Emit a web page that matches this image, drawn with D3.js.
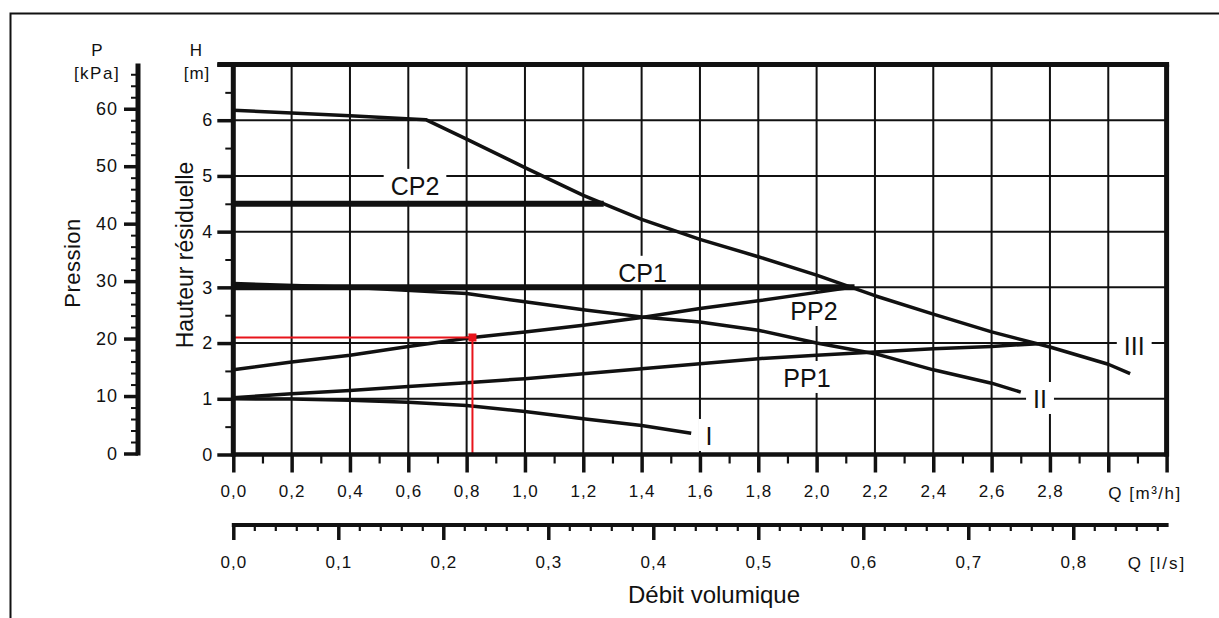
<!DOCTYPE html>
<html>
<head>
<meta charset="utf-8">
<script src="https://cdn.jsdelivr.net/npm/d3@7/dist/d3.min.js"></script>
<style>
  body { margin: 0; background: #fff; }
  text { font-family: "Liberation Sans", Arial, Helvetica, sans-serif; fill: #111; }
</style>
</head>
<body>
<svg id="chart" width="1219" height="618"></svg>
<script>
// débit Q en m3/h, hauteur H en m
var curveIII = [[0,6.18],[0.2,6.13],[0.4,6.08],[0.66,6.01],[0.8,5.66],[1.0,5.15],[1.2,4.65],[1.4,4.22],[1.6,3.86],[1.8,3.55],[2.0,3.22],[2.2,2.85],[2.4,2.52],[2.6,2.2],[2.8,1.93],[3.0,1.62],[3.075,1.45]];
var curveII = [[0,3.07],[0.4,3.0],[0.8,2.89],[1.0,2.74],[1.2,2.6],[1.4,2.47],[1.6,2.38],[1.8,2.23],[2.0,2.0],[2.2,1.81],[2.4,1.52],[2.6,1.28],[2.7,1.12]];
var curveI = [[0,1.0],[0.2,0.995],[0.4,0.975],[0.6,0.94],[0.8,0.88],[1.0,0.77],[1.2,0.64],[1.4,0.52],[1.57,0.38]];
var curvePP2 = [[0,1.52],[0.2,1.66],[0.4,1.78],[0.6,1.94],[0.82,2.1],[1.0,2.2],[1.2,2.32],[1.4,2.46],[1.6,2.62],[1.8,2.76],[2.0,2.91],[2.12,3.0]];
var curvePP1 = [[0,1.02],[0.2,1.09],[0.4,1.15],[0.6,1.22],[0.8,1.29],[1.0,1.36],[1.2,1.45],[1.4,1.54],[1.6,1.63],[1.8,1.72],[2.0,1.78],[2.2,1.84],[2.4,1.9],[2.6,1.94],[2.76,1.99]];
var curveCP2 = [[0,4.5],[1.27,4.5]];
var curveCP1 = [[0,3.0],[2.13,3.0]];
var opPoint = [0.82, 2.1];

var labelNames = ["CP2","CP1","PP2","PP1","III","II","I"];
var labelPos = [[0.623,4.66],[1.403,3.10],[1.991,2.414],[1.967,1.212],[3.089,1.786],[2.766,0.835],[1.631,0.171]];

var qTicks = [0,0.2,0.4,0.6,0.8,1.0,1.2,1.4,1.6,1.8,2.0,2.2,2.4,2.6,2.8,3.0,3.2];
var lsTicks = [0,0.1,0.2,0.3,0.4,0.5,0.6,0.7,0.8];
var hTicks = [0,1,2,3,4,5,6,7];
var pTicks = [0,10,20,30,40,50,60];

var svg = d3.select("#chart");
var x = d3.scaleLinear().domain([0,3.2]).range([233.3,1166.6]);
var xl = d3.scaleLinear().domain([0,3.2/3.6]).range([233.3,1166.6]);
var y = d3.scaleLinear().domain([0,7]).range([454.5,64.5]);
var yp = d3.scaleLinear().domain([0,67.7]).range([453.5,64.5]);
var fmt = function(d){ return d3.format(".1f")(d).replace(".", ","); };

// cadre extérieur
svg.append("path").attr("d","M10.5,618 V13.5 H1219")
  .attr("fill","none").attr("stroke","#111").attr("stroke-width",2);

var gGrid = svg.append("g"), gBox = svg.append("g"), gCurves = svg.append("g"),
    gAxes = svg.append("g"), gText = svg.append("g");

// grille
gGrid.selectAll("line.v").data(qTicks.slice(1,-1)).enter().append("line").attr("class","v")
  .attr("x1",function(d){return x(d);}).attr("x2",function(d){return x(d);})
  .attr("y1",y(0)).attr("y2",y(7));
gGrid.selectAll("line.h").data(hTicks.slice(1,-1)).enter().append("line").attr("class","h")
  .attr("x1",x(0)).attr("x2",x(3.2))
  .attr("y1",function(d){return y(d);}).attr("y2",function(d){return y(d);});
gGrid.selectAll("line").attr("stroke","#111").attr("stroke-width",2);

// courbes
var line = d3.line().x(function(d){return x(d[0]);}).y(function(d){return y(d[1]);});
[curveIII, curveII, curveI, curvePP2, curvePP1].forEach(function(c){
  gCurves.append("path").attr("d", line(c)).attr("fill","none")
    .attr("stroke","#111").attr("stroke-width",3.5).attr("stroke-linejoin","round");
});
[curveCP2, curveCP1].forEach(function(c){
  gCurves.append("path").attr("d", line(c)).attr("fill","none")
    .attr("stroke","#111").attr("stroke-width",6);
});

// point de fonctionnement
var red = "#e8141b";
gCurves.append("line").attr("x1",x(0)).attr("x2",x(opPoint[0]))
  .attr("y1",y(opPoint[1])).attr("y2",y(opPoint[1])).attr("stroke",red).attr("stroke-width",2);
gCurves.append("line").attr("x1",x(opPoint[0])).attr("x2",x(opPoint[0]))
  .attr("y1",y(opPoint[1])).attr("y2",y(0)+1).attr("stroke",red).attr("stroke-width",2);
gCurves.append("rect").attr("x",x(opPoint[0])-4).attr("y",y(opPoint[1])-4)
  .attr("width",8).attr("height",8).attr("fill",red);

function styleAxis(g, w, fs) {
  g.select(".domain").remove();
  g.selectAll(".tick line").attr("stroke","#111").attr("stroke-width",w);
  g.selectAll(".tick text").attr("font-size",fs).style("letter-spacing","1px").attr("fill","#111");
}

// axe H
var hMaj = gAxes.append("g").attr("transform","translate("+x(0)+",0)")
  .call(d3.axisLeft(y).tickValues(hTicks).tickSize(16).tickPadding(4)
    .tickFormat(function(d){ return d < 7 ? d : ""; }));
styleAxis(hMaj, 3.5, 18);
var hMin = gAxes.append("g").attr("transform","translate("+x(0)+",0)")
  .call(d3.axisLeft(y).tickValues(d3.range(0.5,7,1)).tickSize(8).tickFormat(""));
styleAxis(hMin, 2, 18);

// axe P
var pMaj = gAxes.append("g").attr("transform","translate(138,0)")
  .call(d3.axisLeft(yp).tickValues(pTicks).tickSize(14).tickPadding(6));
styleAxis(pMaj, 3.5, 18);
var pMin = gAxes.append("g").attr("transform","translate(138,0)")
  .call(d3.axisLeft(yp).tickValues(d3.range(2,67,2).filter(function(d){return d%10!==0;})).tickSize(7).tickFormat(""));
styleAxis(pMin, 2, 18);

// axe Q m3/h
var qMaj = gAxes.append("g").attr("transform","translate(0,"+y(0)+")")
  .call(d3.axisBottom(x).tickValues(qTicks).tickSize(18).tickPadding(12.7)
    .tickFormat(function(d){ return d <= 2.81 ? fmt(d) : ""; }));
styleAxis(qMaj, 3.5, 17);
var qMin = gAxes.append("g").attr("transform","translate(0,"+y(0)+")")
  .call(d3.axisBottom(x).tickValues(d3.range(0.1,3.2,0.2)).tickSize(9).tickFormat(""));
styleAxis(qMin, 2.2, 17);

// axe Q l/s
var lsMaj = gAxes.append("g").attr("transform","translate(0,525)")
  .call(d3.axisBottom(xl).tickValues(lsTicks).tickSize(15).tickPadding(15.5).tickFormat(fmt));
styleAxis(lsMaj, 3.5, 17);
var lsMin = gAxes.append("g").attr("transform","translate(0,525)")
  .call(d3.axisBottom(xl).tickValues(d3.range(1,45).filter(function(i){return i%5!==0;}).map(function(i){return i*0.02;})).tickSize(6).tickFormat(""));
styleAxis(lsMin, 2.2, 17);

// lignes d'axes et bordures
function seg(x1,y1,x2,y2,w){
  gAxes.append("line").attr("x1",x1).attr("y1",y1).attr("x2",x2).attr("y2",y2)
    .attr("stroke","#111").attr("stroke-width",w);
}
seg(x(0), y(0)+2, x(0), y(7)-2.5, 5);
seg(x(0)-16, y(7), x(3.2)+2.5, y(7), 5);
seg(x(3.2), y(7), x(3.2), y(0)+2, 5);
seg(x(0), y(0), x(3.2)+2, y(0), 4.5);
seg(138, yp(0)+2, 138, 63.5, 5);
seg(x(0)-1.5, 525, x(3.2)+2, 525, 4);

// étiquettes des courbes, sur fond blanc
labelNames.forEach(function(name, i){
  var t = gText.append("text").attr("x", x(labelPos[i][0])).attr("y", y(labelPos[i][1]))
    .attr("text-anchor","middle").attr("font-size",25).text(name);
  var b = t.node().getBBox();
  gBox.append("rect").attr("x",b.x-7).attr("y",b.y-3).attr("width",b.width+14).attr("height",b.height+4)
    .attr("fill","#fff");
});

// titres et unités
function label(txt, xx, yy, fs, opts) {
  var t = gText.append("text").attr("x",xx).attr("y",yy).attr("font-size",fs)
    .attr("text-anchor","middle").text(txt);
  if (opts && opts.rot) t.attr("transform","rotate(-90,"+xx+","+yy+")");
  if (opts && opts.ls) t.style("letter-spacing", opts.ls);
  return t;
}
label("P", 97, 56, 17);
label("[kPa]", 97, 79, 17, {ls:"1.5px"});
label("H", 196, 56, 17);
label("[m]", 197, 79, 17, {ls:"1px"});
label("Pression", 80, 263, 22, {rot:true, ls:"0.5px"});
label("Hauteur résiduelle", 193, 255, 23, {rot:true});
label("Débit volumique", 714, 603, 24);
label("Q [m³/h]", 1145, 499, 17, {ls:"1.5px"});
label("Q [l/s]", 1157, 569, 17, {ls:"2px"});
</script>
</body>
</html>
